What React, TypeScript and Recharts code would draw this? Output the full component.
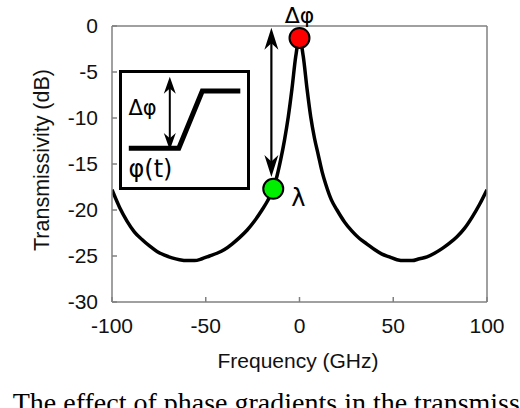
import React from 'react';
import { LineChart, Line, XAxis, YAxis, ReferenceDot, ReferenceLine } from 'recharts';

// transmissivity spectrum
const freqGHz = [
  -100, -96, -92, -88, -84, -80, -76, -72, -68, -64, -60, -56, -52, -48, -44, -40, -36, -32, -28, -24, -20,
  -17, -14, -12, -10, -8, -6, -4, -2, 0, 2, 4, 6, 8, 10, 12, 14, 17, 20, 24, 28, 32, 36, 40, 44, 48, 52, 56,
  60, 64, 68, 72, 76, 80, 84, 88, 92, 96, 100,
];
const transDb = [
  -17.8, -19.7, -21.2, -22.4, -23.2, -23.9, -24.5, -24.9, -25.2, -25.4, -25.5, -25.5, -25.3, -25.0, -24.7,
  -24.3, -23.7, -23.0, -22.2, -21.2, -20.0, -19.0, -17.7, -16.3, -14.5, -12.4, -9.9, -6.8, -3.3, -1.3, -3.3,
  -6.8, -9.9, -12.2, -14.0, -15.8, -17.2, -18.9, -20.0, -21.3, -22.3, -23.1, -23.7, -24.3, -24.8, -25.1, -25.4,
  -25.5, -25.5, -25.3, -25.1, -24.7, -24.2, -23.6, -22.9, -22.0, -20.8, -19.4, -17.8,
];

const xTicks = [-100, -50, 0, 50, 100];
const yTicks = [-30, -25, -20, -15, -10, -5, 0];
const topTicks = [-50, 0, 50];
const sideTicks = [-25, -20, -15, -10, -5];

const peakPoint = { f: 0, db: -1.3 };
const probePoint = { f: -14, db: -17.7 };
const swingArrow = { f: -15, from: -0.2, to: -16.4 };

// inset: phase step phi(t)
const stepTime = [0, 1, 1.47, 2.23];
const stepPhase = [0, 0, 1, 1];
const stepArrow = { t: 0.82, from: -0.03, to: 1.25 };

const curveData = freqGHz.map((f, i) => ({ f, db: transDb[i] }));
const stepData = stepTime.map((t, i) => ({ t, p: stepPhase[i] }));

const sans = 'Liberation Sans, Arial, sans-serif';
const greek = 'DejaVu Sans, sans-serif';
const axisGray = { stroke: '#808080', strokeWidth: 1.5 };
const tickText = { fill: '#111', fontSize: 21, fontFamily: sans };

// vertical line with a barbed head on both ends
const doubleArrow = (head: number, len: number, width: number) => (props: any) => {
  const { x1, y1, y2 } = props;
  const top = Math.min(y1, y2);
  const bot = Math.max(y1, y2);
  const x = x1;
  return (
    <g>
      <line x1={x} y1={top + len * 0.5} x2={x} y2={bot - len * 0.5} stroke="#000" strokeWidth={width} />
      <path d={`M${x},${top} L${x + head},${top + len} L${x},${top + len * 0.7} L${x - head},${top + len} Z`} fill="#000" />
      <path d={`M${x},${bot} L${x + head},${bot - len} L${x},${bot - len * 0.7} L${x - head},${bot - len} Z`} fill="#000" />
    </g>
  );
};

const Inset = () => (
  <div
    style={{
      position: 'absolute',
      left: 118.5,
      top: 70,
      width: 131,
      height: 120,
      border: '3px solid #000',
      boxSizing: 'border-box',
      background: '#fff',
    }}
  >
    <LineChart width={125} height={114} data={stepData} margin={{ top: 0, right: 0, bottom: 0, left: 0 }}>
      <XAxis dataKey="t" type="number" hide domain={[-0.136, 2.364]} allowDataOverflow />
      <YAxis type="number" hide domain={[-0.675, 1.314]} allowDataOverflow />
      <Line
        dataKey="p"
        type="linear"
        stroke="#000"
        strokeWidth={5}
        strokeLinejoin="miter"
        dot={false}
        isAnimationActive={false}
      />
      <ReferenceLine
        segment={[
          { x: stepArrow.t, y: stepArrow.to },
          { x: stepArrow.t, y: stepArrow.from },
        ]}
        shape={doubleArrow(6, 17, 2)}
      />
    </LineChart>
    <svg width={125} height={114} style={{ position: 'absolute', left: 0, top: 0, pointerEvents: 'none' }}>
      <text x={6.5} y={42} fontFamily={greek} fontSize={21} fill="#000">
        Δφ
      </text>
      <text x={6.5} y={104} fontFamily={greek} fontSize={24} fill="#000">
        φ(t)
      </text>
    </svg>
  </div>
);

export default function App() {
  return (
    <div style={{ position: 'absolute', left: 0, top: 0, width: 520, height: 408, overflow: 'hidden', background: '#fff' }}>
      <LineChart width={520} height={408} data={curveData} margin={{ top: 25, right: 32, bottom: 0, left: 0 }}>
        <XAxis
          xAxisId="top"
          orientation="top"
          type="number"
          dataKey="f"
          domain={[-100, 100]}
          ticks={topTicks}
          height={1}
          tick={false}
          tickSize={-5}
          axisLine={axisGray}
          tickLine={axisGray}
          allowDataOverflow
        />
        <YAxis
          yAxisId="right"
          orientation="right"
          type="number"
          domain={[-30, 0]}
          ticks={sideTicks}
          width={1}
          tick={false}
          tickSize={-5}
          axisLine={axisGray}
          tickLine={axisGray}
          allowDataOverflow
        />
        <XAxis
          dataKey="f"
          type="number"
          domain={[-100, 100]}
          ticks={xTicks}
          height={106}
          tickSize={-5}
          tickMargin={21}
          tick={tickText}
          axisLine={axisGray}
          tickLine={axisGray}
          allowDataOverflow
          label={{
            content: (p: any) => {
              const vb = p.viewBox || { x: 112, y: 302, width: 375, height: 106 };
              return (
                <text x={vb.x + vb.width / 2 - 1.5} y={vb.y + 66} textAnchor="middle" fontFamily={sans} fontSize={21} fill="#111">
                  Frequency (GHz)
                </text>
              );
            },
          }}
        />
        <YAxis
          type="number"
          domain={[-30, 0]}
          ticks={yTicks}
          width={112}
          tickSize={-5}
          tickMargin={19}
          tick={tickText}
          axisLine={axisGray}
          tickLine={axisGray}
          allowDataOverflow
          label={{
            content: (p: any) => {
              const vb = p.viewBox || { x: 0, y: 26, width: 112, height: 276 };
              const cx = vb.x + 42;
              const cy = vb.y + vb.height / 2 - 4;
              return (
                <text
                  x={cx}
                  y={cy}
                  transform={`rotate(-90, ${cx}, ${cy})`}
                  textAnchor="middle"
                  dominantBaseline="central"
                  fontFamily={sans}
                  fontSize={21.5}
                  fill="#111"
                >
                  Transmissivity (dB)
                </text>
              );
            },
          }}
        />
        <Line dataKey="db" type="monotone" stroke="#000" strokeWidth={3.5} dot={false} isAnimationActive={false} />
        <ReferenceLine
          segment={[
            { x: swingArrow.f, y: swingArrow.from },
            { x: swingArrow.f, y: swingArrow.to },
          ]}
          shape={doubleArrow(7, 22, 2.2)}
        />
        <ReferenceDot
          x={peakPoint.f}
          y={peakPoint.db}
          r={10}
          fill="#ff0000"
          stroke="#000"
          strokeWidth={2}
          label={{
            content: (p: any) => {
              const vb = p.viewBox;
              if (!vb) return null;
              return (
                <text x={vb.x + vb.width / 2} y={vb.y - 5} textAnchor="middle" fontFamily={greek} fontSize={22} fill="#000">
                  Δφ
                </text>
              );
            },
          }}
        />
        <ReferenceDot
          x={probePoint.f}
          y={probePoint.db}
          r={10}
          fill="#00ee00"
          stroke="#000"
          strokeWidth={2}
          label={{
            content: (p: any) => {
              const vb = p.viewBox;
              if (!vb) return null;
              return (
                <text x={vb.x + vb.width + 8} y={vb.y + vb.height + 7} fontFamily={greek} fontSize={24} fill="#000">
                  λ
                </text>
              );
            },
          }}
        />
      </LineChart>
      <Inset />
      <svg width={520} height={408} style={{ position: 'absolute', left: 0, top: 0, pointerEvents: 'none' }}>
        <text x={7} y={412} textAnchor="end" fontFamily="Liberation Serif, serif" fontSize={28} fill="#000">
          Fig. 1.
        </text>
        <text x={12.7} y={412} fontFamily="Liberation Serif, serif" fontSize={28} fill="#000">
          The effect of phase gradients in the transmissivity spectrum
        </text>
      </svg>
    </div>
  );
}
